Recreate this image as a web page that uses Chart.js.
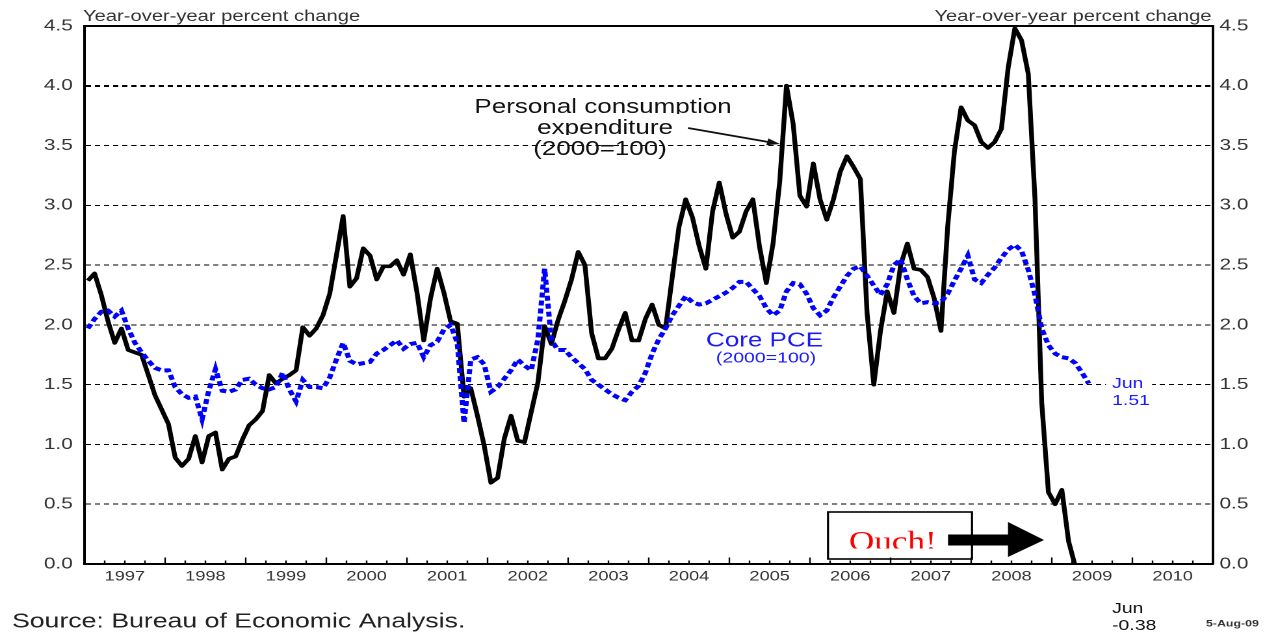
<!DOCTYPE html>
<html>
<head>
<meta charset="utf-8">
<script src="https://cdn.jsdelivr.net/npm/chart.js@4.4.0/dist/chart.umd.min.js"></script>
<style>
html,body{margin:0;padding:0;background:#fff;overflow:hidden;}
#wrap{position:absolute;left:0;top:0;width:973px;height:634px;transform:scaleX(1.30010);transform-origin:0 0;}
</style>
</head>
<body>
<div id="wrap"><canvas id="c"></canvas></div>
<script>
// ---------- data ----------
const years = ['1997','1998','1999','2000','2001','2002','2003','2004','2005','2006','2007','2008','2009','2010'];
const monthNames = ['Jan','Feb','Mar','Apr','May','Jun','Jul','Aug','Sep','Oct','Nov','Dec'];
const months = [];
for (const y of years) for (const m of monthNames) months.push(m + ' ' + y);

// Personal consumption expenditure price index, % change y/y (Jan 1997 - Jun 2009)
const pce = [
  2.37,2.43,2.25,2.03,1.85,1.97,1.79,1.77,1.75,1.58,1.41,1.29,
  1.17,0.89,0.82,0.88,1.07,0.85,1.07,1.10,0.79,0.88,0.90,1.04,
  1.16,1.21,1.28,1.58,1.51,1.55,1.58,1.62,1.98,1.91,1.97,2.08,
  2.26,2.58,2.91,2.32,2.39,2.64,2.58,2.38,2.49,2.49,2.54,2.42,
  2.59,2.27,1.87,2.22,2.47,2.27,2.03,2.01,1.40,1.47,1.24,0.99,
  0.68,0.72,1.05,1.24,1.03,1.02,1.27,1.52,1.99,1.84,2.04,2.20,
  2.38,2.61,2.50,1.93,1.72,1.72,1.80,1.96,2.10,1.87,1.87,2.05,
  2.17,2.00,1.97,2.40,2.82,3.05,2.90,2.66,2.47,2.95,3.19,2.93,
  2.73,2.78,2.95,3.05,2.65,2.35,2.68,3.20,4.00,3.68,3.08,2.99,
  3.35,3.05,2.88,3.05,3.28,3.41,3.32,3.22,2.10,1.50,1.95,2.28,
  2.10,2.50,2.68,2.47,2.46,2.40,2.22,1.95,2.82,3.45,3.82,3.71,
  3.67,3.53,3.48,3.53,3.64,4.15,4.48,4.38,4.10,3.05,1.35,0.60,
  0.50,0.62,0.19,-0.02,-0.20,-0.38
];
// Core PCE price index, % change y/y (Jan 1997 - Jun 2009)
const corePce = [
  1.97,2.05,2.11,2.12,2.07,2.12,1.97,1.85,1.77,1.70,1.64,1.62,
  1.62,1.48,1.42,1.39,1.40,1.21,1.45,1.63,1.45,1.44,1.46,1.54,
  1.55,1.50,1.47,1.46,1.48,1.60,1.46,1.36,1.54,1.48,1.48,1.47,
  1.56,1.71,1.85,1.70,1.67,1.68,1.69,1.76,1.79,1.83,1.87,1.80,
  1.84,1.85,1.73,1.83,1.86,1.96,2.00,1.85,1.18,1.71,1.73,1.67,
  1.44,1.48,1.55,1.62,1.71,1.66,1.62,1.88,2.47,1.87,1.79,1.79,
  1.73,1.68,1.63,1.54,1.50,1.46,1.42,1.39,1.37,1.44,1.49,1.60,
  1.76,1.88,1.97,2.08,2.16,2.24,2.19,2.17,2.18,2.21,2.24,2.27,
  2.31,2.36,2.36,2.30,2.24,2.14,2.08,2.12,2.28,2.35,2.34,2.26,
  2.14,2.08,2.12,2.23,2.32,2.41,2.47,2.49,2.41,2.33,2.25,2.34,
  2.50,2.55,2.38,2.24,2.18,2.19,2.18,2.19,2.26,2.37,2.47,2.58,
  2.38,2.35,2.42,2.48,2.56,2.63,2.67,2.62,2.46,2.25,1.97,1.83,
  1.76,1.73,1.72,1.68,1.60,1.51
];
const yTickValues = [0, 0.5, 1.0, 1.5, 2.0, 2.5, 3.0, 3.5, 4.0, 4.5];
const yearTickIndex = years.map((y, k) => k * 12 + 6);

// ---------- layout helpers ----------
const SX = 1265 / 973;           // horizontal stretch applied by CSS
const X = rx => rx / SX;         // reference px -> canvas css px
const FONT = "'Liberation Sans', Arial, Helvetica, sans-serif";
Chart.defaults.font.family = FONT;

const overlay = {
  id: 'overlay',
  afterDraw(chart) {
    const ctx = chart.ctx;
    const a = chart.chartArea;
    const xs = chart.scales.x;
    ctx.save();

    // top border of plot box
    ctx.strokeStyle = '#000';
    ctx.lineWidth = 2;
    ctx.beginPath();
    ctx.moveTo(a.left, a.top);
    ctx.lineTo(a.right, a.top);
    ctx.stroke();

    // axis titles
    ctx.fillStyle = '#333';
    ctx.font = '15.5px ' + FONT;
    ctx.textBaseline = 'alphabetic';
    ctx.textAlign = 'left';
    ctx.fillText('Year-over-year percent change', X(83), 21);
    ctx.textAlign = 'right';
    ctx.fillText('Year-over-year percent change', X(1211.5), 21);

    // source & date
    ctx.textAlign = 'left';
    ctx.textBaseline = 'middle';
    ctx.fillStyle = '#222';
    ctx.font = '20.5px ' + FONT;
    ctx.fillText('Source: Bureau of Economic Analysis.', X(12), 622);
    ctx.font = 'bold 9.5px ' + FONT;
    ctx.fillStyle = '#333';
    ctx.fillText('5-Aug-09', X(1206), 624);

    // end labels
    ctx.font = '15px ' + FONT;
    ctx.fillStyle = '#111';
    ctx.fillText('Jun', X(1112), 609);
    ctx.fillText('-0.38', X(1112), 626);
    ctx.fillStyle = '#fff';
    ctx.fillRect(X(1106), 375, X(1152) - X(1106), 34);
    ctx.fillStyle = '#1a1aff';
    ctx.fillText('Jun', X(1112), 384);
    ctx.fillText('1.51', X(1112), 401);

    // Core PCE label
    ctx.textAlign = 'center';
    ctx.fillStyle = '#1a1aff';
    ctx.font = '20px ' + FONT;
    ctx.fillText('Core PCE', X(764.5), 341);
    ctx.font = '15px ' + FONT;
    ctx.fillText('(2000=100)', X(766), 358.5);

    // PCE label (descenders clipped like the reference)
    ctx.fillStyle = '#111';
    ctx.font = '20px ' + FONT;
    ctx.textBaseline = 'alphabetic';
    ctx.save();
    ctx.beginPath(); ctx.rect(0, 0, 973, 114); ctx.clip();
    ctx.fillText('Personal consumption', X(603), 113);
    ctx.restore();
    ctx.save();
    ctx.beginPath(); ctx.rect(0, 114, 973, 21); ctx.clip();
    ctx.fillText('expenditure', X(605), 134);
    ctx.restore();
    ctx.fillText('(2000=100)', X(600), 155);

    // thin arrow to the PCE line
    const x1 = X(688), y1 = 128, x2 = X(780), y2 = 144;
    const ang = Math.atan2(y2 - y1, x2 - x1);
    ctx.strokeStyle = '#111';
    ctx.lineWidth = 1.8;
    ctx.beginPath(); ctx.moveTo(x1, y1); ctx.lineTo(x2 - 8 * Math.cos(ang), y2 - 8 * Math.sin(ang)); ctx.stroke();
    ctx.fillStyle = '#111';
    ctx.beginPath();
    ctx.moveTo(x2, y2);
    ctx.lineTo(x2 - 10 * Math.cos(ang) + 3.5 * Math.sin(ang), y2 - 10 * Math.sin(ang) - 3.5 * Math.cos(ang));
    ctx.lineTo(x2 - 10 * Math.cos(ang) - 3.5 * Math.sin(ang), y2 - 10 * Math.sin(ang) + 3.5 * Math.cos(ang));
    ctx.closePath(); ctx.fill();

    // "Ouch!" box
    ctx.fillStyle = '#fff';
    ctx.fillRect(X(828), 512, X(972) - X(828), 47);
    ctx.strokeStyle = '#000';
    ctx.lineWidth = 1.6;
    ctx.strokeRect(X(828), 512, X(972) - X(828), 47);
    ctx.save();
    ctx.beginPath(); ctx.rect(X(830), 514, X(968) - X(830), 34.5); ctx.clip();
    ctx.fillStyle = '#ff0000';
    ctx.font = "27px 'Liberation Serif', 'Times New Roman', serif";
    ctx.textAlign = 'left';
    ctx.fillText('Ouch!', X(849), 550);
    ctx.restore();

    // big black arrow
    ctx.fillStyle = '#000';
    ctx.fillRect(X(948), 534.5, X(1009) - X(948), 11);
    ctx.beginPath();
    ctx.moveTo(X(1008), 522);
    ctx.lineTo(X(1008), 557);
    ctx.lineTo(X(1044), 540);
    ctx.closePath(); ctx.fill();

    // x-axis tick marks (inside the plot, quarterly minor / yearly major)
    const band = xs.getPixelForValue(1) - xs.getPixelForValue(0);
    ctx.strokeStyle = '#000';
    ctx.lineWidth = 1.2;
    for (let i = 3; i < months.length; i += 3) {
      const px = xs.getPixelForValue(i) - band / 2;
      const len = (i % 12 === 0) ? 6.5 : 3.5;
      ctx.beginPath();
      ctx.moveTo(px, a.bottom);
      ctx.lineTo(px, a.bottom - len);
      ctx.stroke();
    }
    ctx.restore();
  }
};

new Chart(document.getElementById('c'), {
  type: 'line',
  data: {
    labels: months,
    datasets: [
      {
        label: 'Personal consumption expenditure (2000=100)',
        data: pce,
        yAxisID: 'y',
        borderColor: '#000',
        borderWidth: 3.7,
        pointRadius: 0,
        tension: 0,
        borderJoinStyle: 'round',
        order: 1,
        clip: {left: 0, right: 0, top: 3, bottom: 0}
      },
      {
        label: 'Core PCE (2000=100)',
        data: corePce,
        yAxisID: 'y',
        borderColor: '#0000ff',
        borderWidth: 4,
        borderDash: [5, 3],
        pointRadius: 0,
        tension: 0,
        order: 0,
        clip: {left: 0, right: 0, top: 3, bottom: 0}
      }
    ]
  },
  options: {
    responsive: true,
    maintainAspectRatio: false,
    devicePixelRatio: 2,
    animation: false,
    events: [],
    layout: {padding: {top: 26, left: 0, right: 0, bottom: 0}},
    plugins: {legend: {display: false}, tooltip: {enabled: false}},
    scales: {
      x: {
        type: 'category',
        offset: true,
        afterBuildTicks: s => { s.ticks = yearTickIndex.map(v => ({value: v})); },
        afterFit: s => { s.height = 70; },
        ticks: {
          autoSkip: false, maxRotation: 0, minRotation: 0,
          labelOffset: -2.58, padding: 4,
          color: '#333', font: {size: 14},
          callback: function (v) { return this.getLabelForValue(v).slice(-4); }
        },
        grid: {drawOnChartArea: false, drawTicks: false},
        border: {display: true, color: '#000', width: 2}
      },
      y: {
        type: 'linear', position: 'left', min: 0, max: 4.5,
        afterBuildTicks: s => { s.ticks = yTickValues.map(v => ({value: v})); },
        afterFit: s => { s.width = 65; },
        ticks: {padding: 9, color: '#333', font: {size: 16}, callback: v => Number(v).toFixed(1)},
        grid: {
          drawTicks: false,
          color: c => (c.tick && (c.tick.value === 0 || c.tick.value === 4.5)) ? 'rgba(0,0,0,0)' : '#000',
          lineWidth: c => (c.tick && c.tick.value === 4) ? 2 : 1
        },
        border: {display: true, color: '#000', width: 2, dash: [4, 3]}
      },
      y2: {
        type: 'linear', position: 'right', min: 0, max: 4.5,
        afterBuildTicks: s => { s.ticks = yTickValues.map(v => ({value: v})); },
        afterFit: s => { s.width = 40; },
        ticks: {padding: 5, color: '#333', font: {size: 16}, callback: v => Number(v).toFixed(1)},
        grid: {drawOnChartArea: false, drawTicks: false},
        border: {display: true, color: '#000', width: 2}
      }
    }
  },
  plugins: [overlay]
});
</script>
</body>
</html>
